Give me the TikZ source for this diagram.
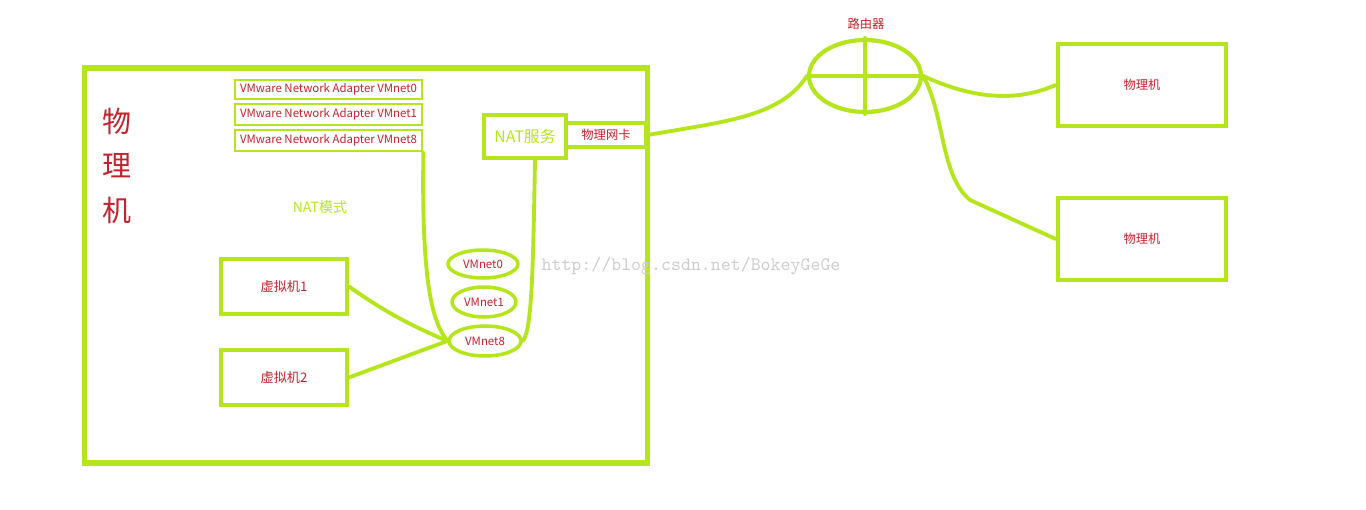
\documentclass[tikz,border=0pt]{standalone}
\usepackage{fontspec}
\setmainfont{Noto Sans CJK SC}
\usepackage{tikz}
\usetikzlibrary{shapes.geometric, positioning, calc}

\definecolor{paintlime}{RGB}{181,230,29}
\definecolor{inkred}{RGB}{196,34,44}
\definecolor{wmgray}{RGB}{205,205,205}

\tikzset{
    box/.style={draw=paintlime, line width=2.2pt, rectangle, inner sep=0pt, text=inkred},
    adapter/.style={box, line width=1.6pt, minimum width=3.74cm, minimum height=0.42cm, font=\fontsize{6.5}{8}\selectfont},
    net/.style={draw=paintlime, line width=2pt, ellipse, inner sep=0pt, text=inkred, font=\fontsize{6.5}{8}\selectfont},
    wire/.style={draw=paintlime, line width=2.2pt, line cap=round}
}

\begin{document}
\begin{tikzpicture}[x=0.02cm, y=-0.02cm]
                \useasboundingbox (0,0) rectangle (1366,510);

                \node[box, line width=2.9pt, minimum width=11.28cm, minimum height=7.9cm] (host) at (366,265.5) {};

                \node[text=inkred, font=\fontsize{16.5}{18}\selectfont] (wu) at (117,121) {物};
                \node[text=inkred, font=\fontsize{16.5}{18}\selectfont] (li) at (117,166) {理};
                \node[text=inkred, font=\fontsize{16.5}{18}\selectfont] (ji) at (117,210) {机};

                \node[adapter, minimum height=0.38cm] (ad0) at (328.5,89.5) {VMware Network Adapter VMnet0};
                \node[adapter] (ad1) at (328.5,114.5) {VMware Network Adapter VMnet1};
                \node[adapter] (ad8) at (328.5,140.5) {VMware Network Adapter VMnet8};

                \node[box, minimum width=1.64cm, minimum height=0.86cm, text=paintlime, font=\fontsize{9}{10}\selectfont] (nat) at (525,136.5) {NAT服务};
                \node[box, minimum width=1.6cm, minimum height=0.48cm, font=\fontsize{7}{8}\selectfont] (nic) at (606,135) {物理网卡};

                \node[text=paintlime, font=\fontsize{8}{10}\selectfont] (mode) at (320,207) {NAT模式};

                \node[box, minimum width=2.52cm, minimum height=1.1cm, font=\fontsize{7.5}{9}\selectfont] (vm1) at (284,286.5) {虚拟机1\hspace{0.35cm}};
                \node[box, minimum width=2.52cm, minimum height=1.1cm, font=\fontsize{7.5}{9}\selectfont] (vm2) at (284,377.5) {虚拟机2\hspace{0.3cm}};

                \node[net, minimum width=1.4cm, minimum height=0.56cm] (vmnet0) at (483,264) {VMnet0};
                \node[net, minimum width=1.28cm, minimum height=0.6cm] (vmnet1) at (484,302) {VMnet1};
                \node[net, minimum width=1.44cm, minimum height=0.6cm] (vmnet8) at (485,341) {VMnet8};

                \node[text=wmgray, font=\ttfamily\fontsize{10.8}{12}\selectfont] (mark) at (691,266) {http://blog.csdn.net/BokeyGeGe};

                \node[draw=paintlime, line width=2.4pt, ellipse, minimum width=2.24cm, minimum height=1.44cm] (router) at (865,76) {};
                \node[text=inkred, font=\fontsize{7}{8}\selectfont] (rlabel) at (866,24) {路由器};

                \node[box, line width=2.6pt, minimum width=3.36cm, minimum height=1.64cm, font=\fontsize{7}{8}\selectfont] (pc1) at (1142,85) {物理机};
                \node[box, line width=2.6pt, minimum width=3.36cm, minimum height=1.64cm, font=\fontsize{7}{8}\selectfont] (pc2) at (1142,239) {物理机};

                \draw[wire] (router.west) -- (router.east);
                \draw[wire] (router.north) -- (router.south);

                \draw[wire] (vm1.east) .. controls (385,312) and (410,325) .. (vmnet8.west);
                \draw[wire] (vm2.east) -- (vmnet8.west);
                \draw[wire] (ad8.south east) .. controls (421,300) and (436,325) .. (vmnet8.west);
                \draw[wire] ([xshift=0.2cm]nat.south) .. controls (533,270) and (532,330) .. (vmnet8.east);

                \draw[wire] (nic.east) .. controls (720,122) and (780,118) .. (router.west);
                \draw[wire] (router.east) .. controls (965,95) and (1010,105) .. (pc1.west);
                \draw[wire] (router.east) .. controls (945,115) and (940,175) .. (970,200) -- (pc2.west);
            \end{tikzpicture}
\end{document}
